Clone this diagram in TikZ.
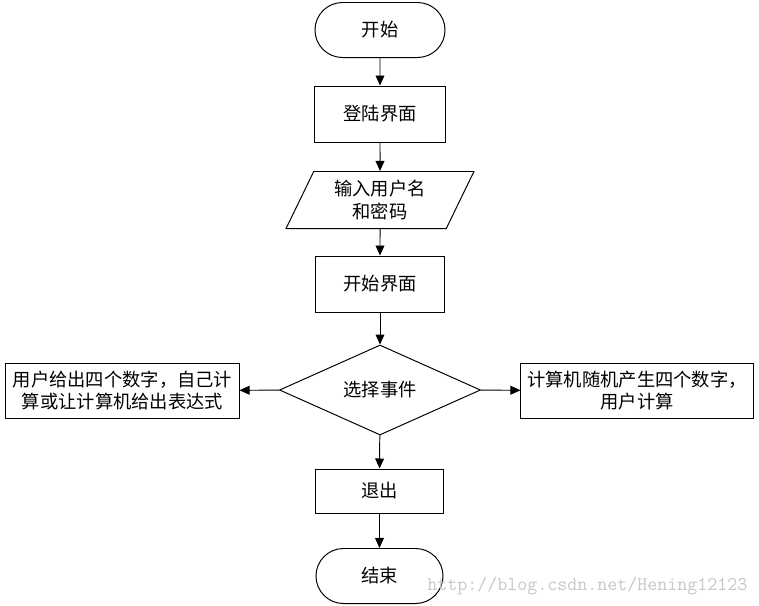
\documentclass[tikz,border=0pt]{standalone}
\usepackage{fontspec}
\setmainfont{Noto Sans CJK SC}
\usetikzlibrary{shapes.geometric,shapes.misc,arrows.meta}
\begin{document}
\begin{tikzpicture}[x=0.025cm,y=-0.025cm,
    font=\fontsize{13}{15.8}\selectfont,
    every node/.style={draw,line width=0.7pt,inner sep=0pt,align=center},
    terminal/.style={rounded rectangle,minimum width=3.25cm,minimum height=1.375cm},
    stepbox/.style={rectangle,minimum height=1.4cm},
    iobox/.style={trapezium,trapezium left angle=64,trapezium right angle=116,
      trapezium stretches=true,minimum width=4.725cm,minimum height=1.425cm},
    choice/.style={diamond,minimum width=5.025cm,minimum height=2.125cm},
    flow/.style={line width=0.7pt,-{Triangle[length=0.25cm,width=0.22cm]}}]
    \useasboundingbox (0,0) rectangle (759,606);
    \begin{scope}
      \node[terminal] (start) at (380,30) {开始};
      \node[stepbox,minimum width=3.275cm] (login) at (380,114) {登陆界面};
      \node[iobox] (input) at (380,200) {输入用户名\\和密码};
      \node[stepbox,minimum width=3.2cm] (home) at (380,284) {开始界面};
      \node[choice] (pick) at (380,390) {选择事件};
      \node[stepbox,minimum width=5.825cm,minimum height=1.375cm] (user) at (122.5,390.5)
        {用户给出四个数字，自己计\\算或让计算机给出表达式};
      \node[stepbox,minimum width=5.8cm,minimum height=1.375cm] (comp) at (637,390.5)
        {计算机随机产生四个数字，\\用户计算};
      \node[stepbox,minimum width=3.175cm,minimum height=1.1cm] (quit) at (379.5,491) {退出};
      \node[terminal,minimum width=3.175cm] (stop) at (379.5,576) {结束};
    \end{scope}
    \draw[flow] (start) -- (login);
    \draw[flow] (login) -- (input);
    \draw[flow] (input) -- (home);
    \draw[flow] (home) -- (pick);
    \draw[flow] (pick) -- (user);
    \draw[flow] (pick) -- (comp);
    \draw[flow] (pick) -- (quit);
    \draw[flow] (quit) -- (stop);
    \node[draw=none,anchor=west,text=black!22,font=\ttfamily\fontsize{13.8}{15}\selectfont]
      (mark) at (427,586) {http://blog.csdn.net/Hening12123};
\end{tikzpicture}
\end{document}
